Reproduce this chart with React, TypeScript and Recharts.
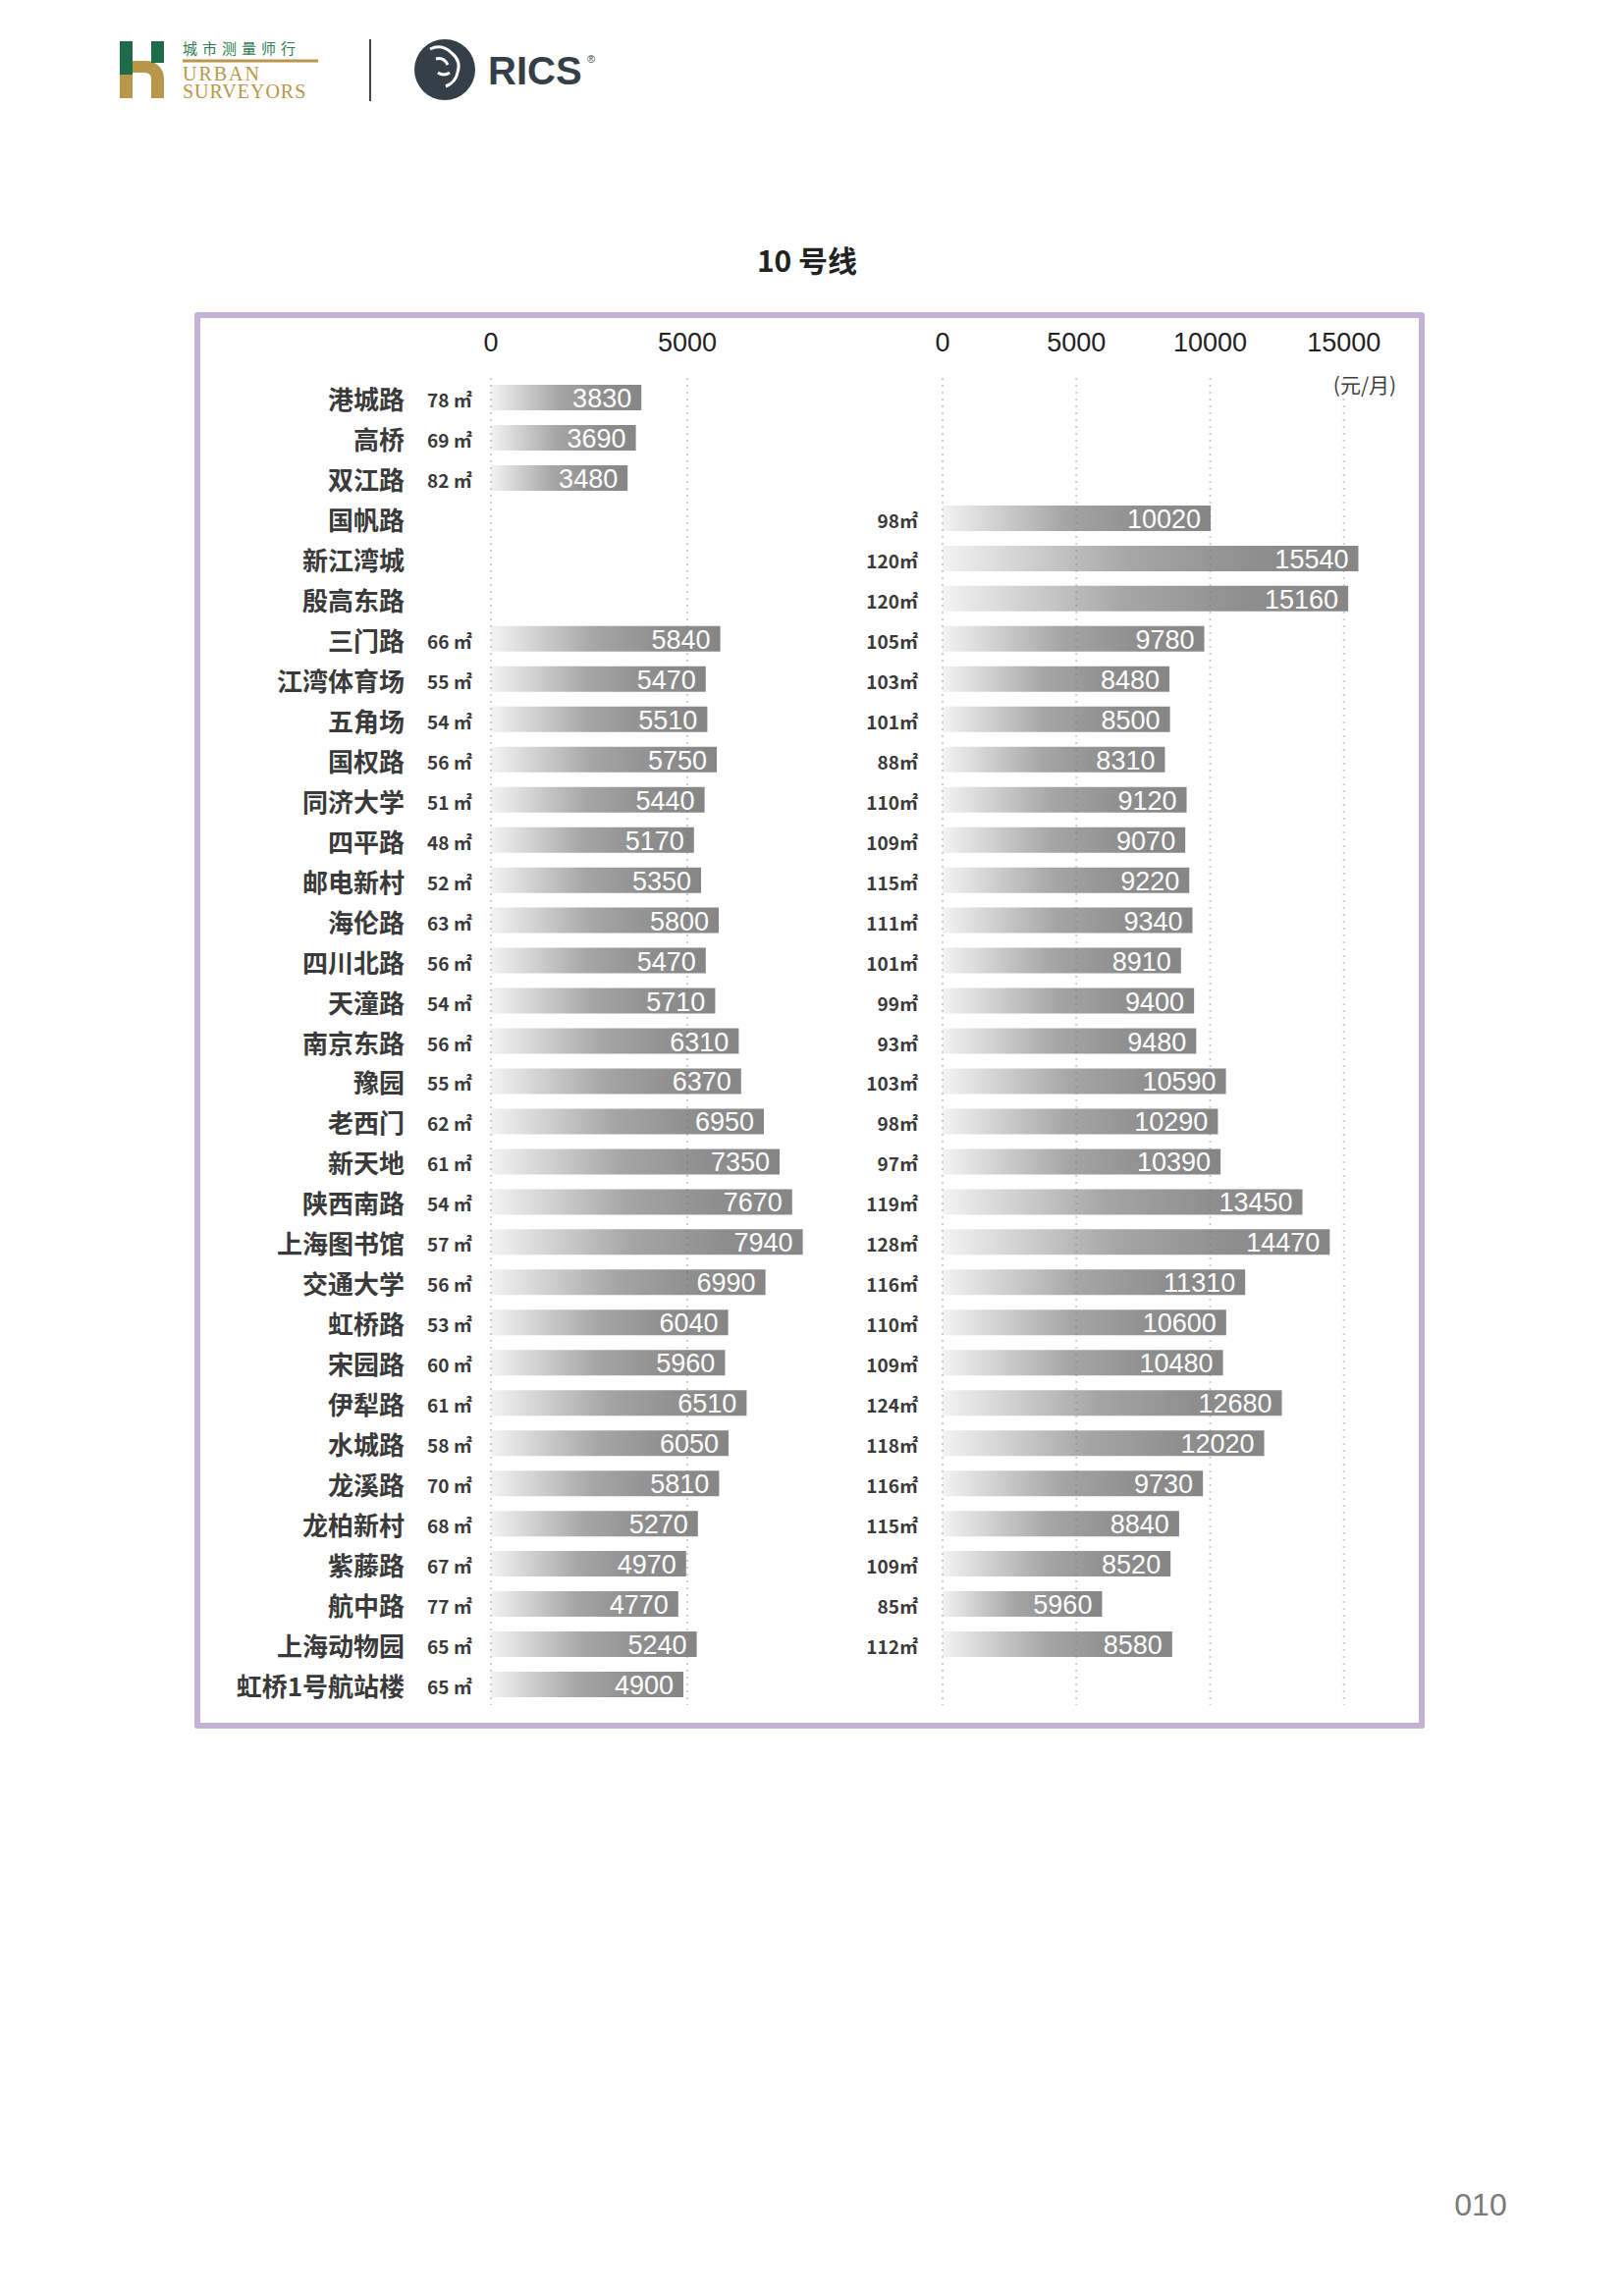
import React from "react"
import { BarChart, Bar, XAxis, YAxis, ReferenceLine, LabelList } from "recharts"

const stations = [
  "港城路", "高桥", "双江路", "国帆路", "新江湾城", "殷高东路", "三门路", "江湾体育场", "五角场", "国权路", "同济大学",
  "四平路", "邮电新村", "海伦路", "四川北路", "天潼路", "南京东路", "豫园", "老西门", "新天地", "陕西南路", "上海图书馆",
  "交通大学", "虹桥路", "宋园路", "伊犁路", "水城路", "龙溪路", "龙柏新村", "紫藤路", "航中路", "上海动物园", "虹桥1号航站楼",
]

// left chart: smaller units (area m², rent 元/月)
const leftArea = [78, 69, 82, null, null, null, 66, 55, 54, 56, 51, 48, 52, 63, 56, 54, 56, 55, 62, 61, 54, 57, 56, 53, 60, 61, 58, 70, 68, 67, 77, 65, 65]
const leftRent = [3830, 3690, 3480, null, null, null, 5840, 5470, 5510, 5750, 5440, 5170, 5350, 5800, 5470, 5710, 6310, 6370, 6950, 7350, 7670, 7940, 6990, 6040, 5960, 6510, 6050, 5810, 5270, 4970, 4770, 5240, 4900]

// right chart: larger units
const rightArea = [null, null, null, 98, 120, 120, 105, 103, 101, 88, 110, 109, 115, 111, 101, 99, 93, 103, 98, 97, 119, 128, 116, 110, 109, 124, 118, 116, 115, 109, 85, 112, null]
const rightRent = [null, null, null, 10020, 15540, 15160, 9780, 8480, 8500, 8310, 9120, 9070, 9220, 9340, 8910, 9400, 9480, 10590, 10290, 10390, 13450, 14470, 11310, 10600, 10480, 12680, 12020, 9730, 8840, 8520, 5960, 8580, null]

const leftTicks = [0, 5000]
const rightTicks = [0, 5000, 10000, 15000]

const rows = stations.map((name, i) => ({
  name,
  left: leftRent[i],
  right: rightRent[i],
}))

const numFont = "'Liberation Sans', Arial, sans-serif"
const cjkFont = "'Noto Sans CJK SC', 'Noto Sans', sans-serif"
const textColor = "#3a3a3a"
const gridColor = "rgba(110,110,110,0.33)"

const TopTick = (props: any) => (
  <text x={props.x} y={49} textAnchor="middle" dominantBaseline="central" fontFamily={numFont} fontSize={27} fill="#222">
    {props.payload.value}
  </text>
)

const LeftNameTick = (props: any) => {
  const i = stations.indexOf(props.payload.value)
  const area = leftArea[i]
  return (
    <g>
      <text x={212} y={props.y} textAnchor="end" dominantBaseline="central" fontFamily={cjkFont} fontWeight={700} fontSize={26} fill={textColor}>
        {props.payload.value}
      </text>
      {area != null && (
        <text x={235} y={props.y + 1} dominantBaseline="central" fontFamily={cjkFont} fontWeight={700} fontSize={19} fill={textColor}>
          {area + " ㎡"}
        </text>
      )}
    </g>
  )
}

const RightAreaTick = (props: any) => {
  const i = stations.indexOf(props.payload.value)
  const area = rightArea[i]
  if (area == null) return <g />
  return (
    <text x={75} y={props.y + 1} textAnchor="end" dominantBaseline="central" fontFamily={cjkFont} fontWeight={700} fontSize={19} fill={textColor}>
      {area + "㎡"}
    </text>
  )
}

const ValueLabel = (props: any) => {
  if (props.value == null) return null
  const x = Number(props.x) + Number(props.width) - 10
  const y = Number(props.y) + Number(props.height) / 2
  return (
    <text x={x} y={y + 1} textAnchor="end" dominantBaseline="central" fontFamily={numFont} fontSize={27} fill="#fff">
      {props.value}
    </text>
  )
}

function Header() {
  return (
    <svg width={700} height={130} style={{ position: "absolute", left: 0, top: 0 }}>
      <rect x={122} y={42} width={13} height={58} fill="#1e6b49" />
      <path d="M135 62 h14 a18 18 0 0 1 18 18 v20 h-13 v-20 a6 6 0 0 0 -6 -6 h-13 z" fill="#b8974a" />
      <rect x={122} y={76} width={13} height={24} fill="#b8974a" />
      <rect x={154} y={42} width={13} height={22} fill="#1e6b49" />
      <text x={186} y={55} fontFamily={cjkFont} fontSize={15} letterSpacing={5} fill="#2f7a55">城市测量师行</text>
      <line x1={186} x2={324} y1={62} y2={62} stroke="#b8974a" strokeWidth={3} />
      <text x={186} y={82} fontFamily="'Liberation Serif', serif" fontSize={20} letterSpacing={2} fill="#b8974a">URBAN</text>
      <text x={186} y={100} fontFamily="'Liberation Serif', serif" fontSize={20} letterSpacing={1} fill="#b8974a">SURVEYORS</text>
      <line x1={377} x2={377} y1={40} y2={103} stroke="#444" strokeWidth={2} />
      <circle cx={453} cy={71} r={31} fill="#353f48" />
      <path d="M438 50 q12 -6 22 4 q10 8 6 20 q-2 10 -12 14 M444 60 q8 -2 12 6 M446 74 q6 4 12 0" stroke="#fff" strokeWidth={3} fill="none" />
      <text x={497} y={86} fontFamily={numFont} fontWeight={700} fontSize={40} fill="#353f48">RICS</text>
      <text x={598} y={64} fontFamily={numFont} fontSize={11} fill="#353f48">®</text>
    </svg>
  )
}

export default function App() {
  return (
    <div style={{ position: "relative", width: 1654, height: 2339, background: "#fff", overflow: "hidden" }}>
      <style>{"body{margin:0}"}</style>
      <svg width={0} height={0} style={{ position: "absolute" }}>
        <defs>
          <linearGradient id="barGrad" x1="0" y1="0" x2="1" y2="0">
            <stop offset="0%" stopColor="#f3f3f3" />
            <stop offset="45%" stopColor="#a6a6a6" />
            <stop offset="75%" stopColor="#8e8e8e" />
            <stop offset="100%" stopColor="#868686" />
          </linearGradient>
        </defs>
      </svg>
      <Header />
      <div style={{ position: "absolute", left: 0, width: 1654, top: 244, textAlign: "center", fontFamily: cjkFont, fontWeight: 700, fontSize: 30, color: "#222", lineHeight: "40px" }}>
        <span style={{ position: "relative", left: -5 }}>10 号线</span>
      </div>
      <div style={{ position: "absolute", left: 198, top: 318, width: 1241, height: 1431, border: "6px solid #c4b1d6", borderRadius: 3 }} />
      <div style={{ position: "absolute", left: 1340, top: 376, width: 100, textAlign: "center", fontFamily: cjkFont, fontSize: 21, color: "#404040", lineHeight: "30px" }}>
        (元/月)
      </div>

      <div style={{ position: "absolute", left: 200, top: 300 }}>
        <BarChart layout="vertical" width={640} height={1450} data={rows} margin={{ top: 25, right: 20, bottom: 13, left: 0 }}>
          <XAxis type="number" orientation="top" domain={[0, 8000]} ticks={leftTicks} height={60} axisLine={false} tickLine={false} tick={TopTick} />
          <YAxis type="category" dataKey="name" width={300} axisLine={false} tickLine={false} interval={0} tick={LeftNameTick} />
          <Bar dataKey="left" fill="url(#barGrad)" barSize={26} isAnimationActive={false}>
            <LabelList dataKey="left" content={ValueLabel} />
          </Bar>
          {leftTicks.map((t) => (
            <ReferenceLine key={t} x={t} stroke={gridColor} strokeWidth={2} strokeDasharray="2 5" />
          ))}
        </BarChart>
      </div>

      <div style={{ position: "absolute", left: 860, top: 300 }}>
        <BarChart layout="vertical" width={556} height={1450} data={rows} margin={{ top: 25, right: 20, bottom: 13, left: 0 }}>
          <XAxis type="number" orientation="top" domain={[0, 16000]} ticks={rightTicks} height={60} axisLine={false} tickLine={false} tick={TopTick} />
          <YAxis type="category" dataKey="name" width={100} axisLine={false} tickLine={false} interval={0} tick={RightAreaTick} />
          <Bar dataKey="right" fill="url(#barGrad)" barSize={26} isAnimationActive={false}>
            <LabelList dataKey="right" content={ValueLabel} />
          </Bar>
          {rightTicks.map((t) => (
            <ReferenceLine key={t} x={t} stroke={gridColor} strokeWidth={2} strokeDasharray="2 5" />
          ))}
        </BarChart>
      </div>

      <div style={{ position: "absolute", left: 1458, top: 2226, width: 100, textAlign: "center", fontFamily: numFont, fontSize: 32, color: "#7a7a7a", lineHeight: "40px" }}>
        010
      </div>
    </div>
  )
}
